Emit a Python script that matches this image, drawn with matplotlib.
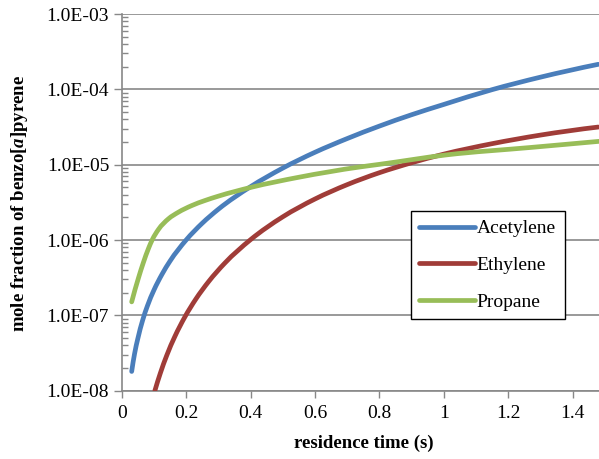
import numpy as np
import matplotlib
matplotlib.use("Agg")
import matplotlib.pyplot as plt
from matplotlib.path import Path
from matplotlib.patches import PathPatch
from matplotlib.lines import Line2D
from matplotlib.ticker import FixedLocator, FuncFormatter, LogLocator, NullFormatter

plt.rcParams["font.family"] = ["Liberation Serif", "DejaVu Serif"]
plt.rcParams["mathtext.fontset"] = "custom"
plt.rcParams["mathtext.bfit"] = "Liberation Serif:italic:bold"
plt.rcParams["mathtext.rm"] = "Liberation Serif"

# residence time (s) and mole fraction of benzo[a]pyrene for each fuel
acetylene_t = [0.031, 0.04, 0.05, 0.065, 0.08, 0.1, 0.125, 0.15, 0.2, 0.25, 0.3, 0.4, 0.5, 0.6, 0.7,
               0.8, 0.9, 1.0, 1.15, 1.3, 1.48]
acetylene_x = [1.8e-8, 3.1e-8, 4.9e-8, 8.6e-8, 1.34e-7, 2.16e-7, 3.5e-7, 5.25e-7, 1.0e-6, 1.67e-6,
               2.56e-6, 5.1e-6, 9.0e-6, 1.46e-5, 2.22e-5, 3.25e-5, 4.6e-5, 6.3e-5, 9.9e-5, 1.45e-4,
               2.15e-4]

ethylene_t = [0.103, 0.12, 0.14, 0.165, 0.196, 0.23, 0.27, 0.32, 0.4, 0.5, 0.6, 0.7, 0.8, 0.9, 1.0,
              1.15, 1.3, 1.48]
ethylene_x = [1.0e-8, 1.71e-8, 2.95e-8, 5.24e-8, 9.5e-8, 1.64e-7, 2.81e-7, 4.93e-7, 1.01e-6, 2.03e-6,
              3.5e-6, 5.43e-6, 7.82e-6, 1.06e-5, 1.38e-5, 1.9e-5, 2.47e-5, 3.16e-5]

propane_t = [0.031, 0.052, 0.067, 0.083, 0.095, 0.114, 0.145, 0.176, 0.217, 0.259, 0.3, 0.403, 0.55,
             0.74, 0.8, 1.009, 1.268, 1.482]
propane_x = [1.51e-7, 3.13e-7, 4.98e-7, 7.69e-7, 1.01e-6, 1.38e-6, 1.91e-6, 2.34e-6, 2.86e-6, 3.35e-6,
             3.82e-6, 5.02e-6, 6.81e-6, 9.33e-6, 1.01e-5, 1.35e-5, 1.69e-5, 2.04e-5]

series_names = ["Acetylene", "Ethylene", "Propane"]
series_colors = ["#4A7EBB", "#A03C38", "#98BD58"]

x_ticks = [0, 0.2, 0.4, 0.6, 0.8, 1.0, 1.2, 1.4]
y_ticks = [1e-8, 1e-7, 1e-6, 1e-5, 1e-4, 1e-3]

axis_gray = "#888888"
line_w = 3.4


def smooth_path(t, x):
    """Smoothed-line path through the points: cubic Bezier segments in log space."""
    t = np.asarray(t, float)
    y = np.log10(np.asarray(x, float))
    h = np.diff(t)
    d = np.diff(y) / h
    n = len(t)
    m = np.zeros(n)
    for i in range(1, n - 1):
        m[i] = (h[i - 1] * d[i] + h[i] * d[i - 1]) / (h[i - 1] + h[i])
    m[0] = max(((2 * h[0] + h[1]) * d[0] - h[0] * d[1]) / (h[0] + h[1]), 0.0)
    m[-1] = max(((2 * h[-1] + h[-2]) * d[-1] - h[-1] * d[-2]) / (h[-1] + h[-2]), 0.0)
    verts = [(t[0], y[0])]
    codes = [Path.MOVETO]
    for i in range(n - 1):
        verts += [(t[i] + h[i] / 3, y[i] + m[i] * h[i] / 3),
                  (t[i + 1] - h[i] / 3, y[i + 1] - m[i + 1] * h[i] / 3),
                  (t[i + 1], y[i + 1])]
        codes += [Path.CURVE4] * 3
    verts = np.array(verts)
    verts[:, 1] = 10 ** verts[:, 1]
    return Path(verts, codes)


fig = plt.figure(figsize=(5.99, 4.59), dpi=100)
ax = fig.add_axes([121.7 / 599, 1 - 390.7 / 459, 1 - 121.7 / 599, (390.7 - 14) / 459])

ax.set_yscale("log")
ax.set_xlim(0, 1.482)
ax.set_ylim(1e-8, 1e-3)

data = [(acetylene_t, acetylene_x), (ethylene_t, ethylene_x), (propane_t, propane_x)]
handles = []
for (t, x), name, color in zip(data, series_names, series_colors):
    patch = PathPatch(smooth_path(t, x), facecolor="none", edgecolor=color, lw=line_w,
                      capstyle="round", joinstyle="round", transform=ax.transData, zorder=3)
    ax.add_patch(patch)
    handles.append(Line2D([], [], color=color, lw=line_w, solid_capstyle="round", label=name))

ax.xaxis.set_major_locator(FixedLocator(x_ticks))
ax.xaxis.set_major_formatter(FuncFormatter(lambda v, p: f"{v:g}"))
ax.yaxis.set_major_locator(FixedLocator(y_ticks))
ax.yaxis.set_major_formatter(FuncFormatter(lambda v, p: f"{v:.1E}"))
ax.yaxis.set_minor_locator(LogLocator(base=10, subs=range(2, 10), numticks=20))
ax.yaxis.set_minor_formatter(NullFormatter())

ax.tick_params(axis="both", which="major", labelsize=14, colors=axis_gray, labelcolor="black")
ax.tick_params(axis="y", which="major", direction="out", length=6, width=1, pad=3)
ax.tick_params(axis="y", which="minor", direction="in", length=4, width=1, colors=axis_gray)
ax.tick_params(axis="x", which="major", direction="out", length=5, width=1, pad=5)

ax.grid(axis="y", which="major", color=axis_gray, lw=1.2)
ax.set_axisbelow(True)
for side in ("top", "right"):
    ax.spines[side].set_visible(False)
for side in ("left", "bottom"):
    ax.spines[side].set_color(axis_gray)
    ax.spines[side].set_linewidth(1.2)

leg = ax.legend(handles=handles, loc="upper left", bbox_to_anchor=(0.6055, 0.477), fontsize=14,
                fancybox=False, framealpha=1, edgecolor="black", handlelength=2.85,
                handletextpad=0.1, labelspacing=0.98, borderpad=0.45, borderaxespad=0)
leg.get_frame().set_linewidth(1.0)
leg.set_zorder(5)

fig.text(363.5 / 599, 1 - 443 / 459, "residence time (s)", ha="center", va="center",
         fontsize=13.5, fontweight="bold")
fig.text(20 / 599, 1 - 203.5 / 459, r"mole fraction of benzo[$\mathbfit{a}$]pyrene",
         rotation=90, ha="center", va="center", fontsize=13.5, fontweight="bold")

fig.savefig("out.png", dpi=100)
